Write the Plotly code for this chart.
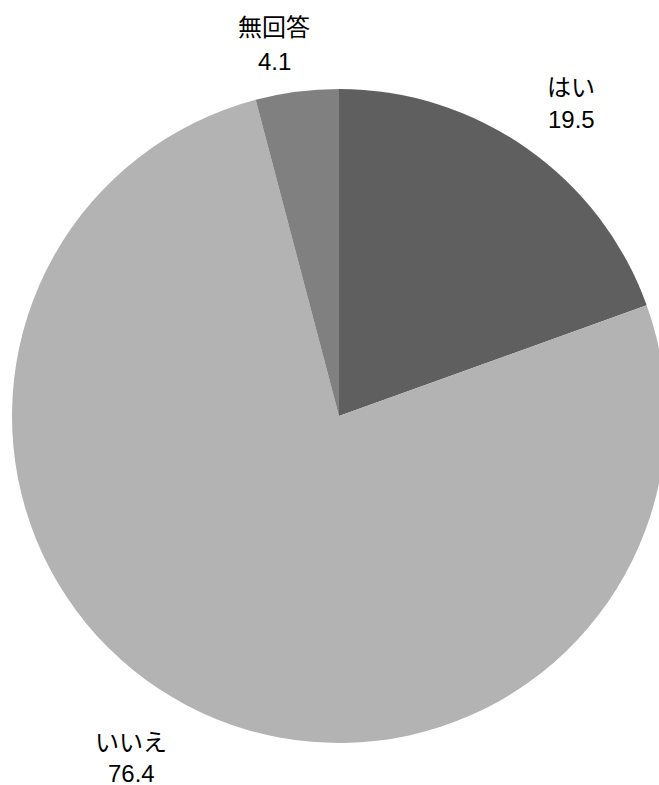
import plotly.graph_objects as go

labels = ["はい", "いいえ", "無回答"]
values = [19.5, 76.4, 4.1]
colors = ["#5f5f5f", "#b3b3b3", "#808080"]
# label line centre positions in pixels (x, y_label, y_value from top)
label_pos = [(571, 88, 120), (131, 742, 773), (274, 28, 62)]

W, H = 700, 785
cx, cy, r = 339, 416, 327

fig = go.Figure(go.Pie(
    labels=labels, values=values, sort=False, direction="clockwise", rotation=0,
    marker=dict(colors=colors, line=dict(width=0)),
    textinfo="none", hoverinfo="label+value", showlegend=False,
    domain=dict(x=[(cx - r) / W, (cx + r) / W], y=[(H - cy - r) / H, (H - cy + r) / H]),
))

font = dict(size=24, color="#000000", family="Liberation Sans, Arial, Noto Sans CJK JP")
anns = []
for lab, val, (px, py1, py2) in zip(labels, values, label_pos):
    for txt, py in ((lab, py1), (f"{val}", py2)):
        anns.append(dict(
            x=px / W, y=1 - py / H, xref="paper", yref="paper",
            text=txt, showarrow=False, xanchor="center", yanchor="middle", font=font,
        ))

fig.update_layout(
    width=W, height=H, margin=dict(l=0, r=0, t=0, b=0),
    paper_bgcolor="white", plot_bgcolor="white", annotations=anns,
)

fig.write_html("out.html", post_script="document.body.style.margin='0';document.body.style.overflow='hidden';document.documentElement.style.overflow='hidden';")
